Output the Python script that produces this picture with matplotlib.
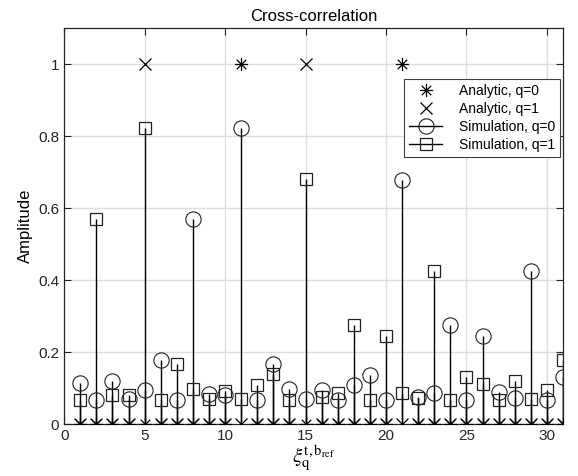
import numpy as np
import matplotlib
matplotlib.use('Agg')
import matplotlib.pyplot as plt
from matplotlib.path import Path
from matplotlib.legend_handler import HandlerLine2D

# x positions (xi values)
xi = np.arange(1, 32)

# analytic cross-correlation: 1 at the matching offsets, 0 elsewhere
analytic_q0 = np.zeros(31)
analytic_q0[[10, 20]] = 1.0          # xi = 11, 21
analytic_q1 = np.zeros(31)
analytic_q1[[4, 14]] = 1.0           # xi = 5, 15

# simulated amplitudes
sim_q0 = [0.115, 0.068, 0.121, 0.070, 0.095, 0.179, 0.066, 0.569, 0.083, 0.080,
          0.822, 0.066, 0.168, 0.098, 0.070, 0.094, 0.068, 0.110, 0.137, 0.066,
          0.679, 0.075, 0.086, 0.274, 0.066, 0.246, 0.089, 0.072, 0.425, 0.066,
          0.131]
sim_q1 = [0.066, 0.569, 0.082, 0.080, 0.822, 0.066, 0.167, 0.098, 0.070, 0.093,
          0.069, 0.110, 0.138, 0.066, 0.680, 0.075, 0.087, 0.274, 0.066, 0.246,
          0.087, 0.072, 0.425, 0.066, 0.131, 0.112, 0.068, 0.121, 0.070, 0.095,
          0.179]

plt.rcParams['font.family'] = ['Liberation Sans', 'DejaVu Sans']
plt.rcParams['mathtext.fontset'] = 'stix'

# matlab style asterisk: plus and x on top of each other
asterisk = Path([(0, -1), (0, 1), (-1, 0), (1, 0),
                 (-0.72, -0.72), (0.72, 0.72), (-0.72, 0.72), (0.72, -0.72)],
                [Path.MOVETO, Path.LINETO, Path.MOVETO, Path.LINETO,
                 Path.MOVETO, Path.LINETO, Path.MOVETO, Path.LINETO])


class EndMarker(HandlerLine2D):
    # legend marker sits at the right end of the line, like matlab
    def get_xdata(self, legend, xdescent, ydescent, width, height, fontsize):
        xdata = np.array([-xdescent, -xdescent + width])
        return xdata, np.array([-xdescent + width])


fig = plt.figure(figsize=(5.78, 4.76), dpi=100)
ax = fig.add_axes([0.111, 0.109, 0.863, 0.832])

ax.grid(True, color='#dedede', linewidth=1.0, zorder=0)
ax.set_axisbelow(True)

ax.plot(xi, analytic_q0, linestyle='none', marker=asterisk, markersize=9.5,
        markeredgecolor='black', markeredgewidth=0.9, color='black',
        label='Analytic, q=0', zorder=4)
ax.plot(xi, analytic_q1, linestyle='none', marker='x', markersize=8,
        markeredgecolor='black', markeredgewidth=0.9, color='black',
        label='Analytic, q=1', zorder=4)

ax.vlines(xi, 0, sim_q0, color='black', linewidth=1.0, zorder=3)
ax.plot(xi, sim_q0, linestyle='none', marker='o', markersize=11, markerfacecolor='none',
        markeredgecolor='#222222', markeredgewidth=0.8, zorder=5)
ax.vlines(xi, 0, sim_q1, color='black', linewidth=1.0, zorder=3)
ax.plot(xi, sim_q1, linestyle='none', marker='s', markersize=8.5, markerfacecolor='none',
        markeredgecolor='#222222', markeredgewidth=0.9, zorder=5)

# legend proxies for stem series (line + marker)
ax.plot([], [], color='black', linewidth=1.0, marker='o', markersize=11,
        markerfacecolor='none', markeredgecolor='#222222', markeredgewidth=0.8,
        label='Simulation, q=0')
ax.plot([], [], color='black', linewidth=1.0, marker='s', markersize=8.5,
        markerfacecolor='none', markeredgecolor='#222222', markeredgewidth=0.9,
        label='Simulation, q=1')

ax.set_xlim(0, 31)
ax.set_ylim(0, 1.1)
ax.set_xticks([0, 5, 10, 15, 20, 25, 30])
ax.set_yticks([0, 0.2, 0.4, 0.6, 0.8, 1.0])
ax.set_yticklabels(['0', '0.2', '0.4', '0.6', '0.8', '1'])
ax.tick_params(direction='in', top=True, right=True, labelsize=11, length=5, width=0.8,
               colors='#262626')
for sp in ax.spines.values():
    sp.set_color('#262626')
    sp.set_linewidth(0.9)

ax.set_title('Cross-correlation', fontsize=12, pad=5)
ax.set_ylabel('Amplitude', fontsize=12)
ax.set_xlabel(r'$\xi_{\mathrm{q}}^{\mathrm{t,b}_{\mathrm{ref}}}$', fontsize=15, labelpad=0)

handles, labels = ax.get_legend_handles_labels()
leg = ax.legend(handles, labels, loc='upper right', bbox_to_anchor=(0.994, 0.872),
                borderaxespad=0, fontsize=10, frameon=True, fancybox=False,
                edgecolor='#404040', borderpad=0.35, handlelength=2.4, labelspacing=0.3,
                handletextpad=1.2, numpoints=1, framealpha=1,
                handler_map={h: EndMarker() for h in handles})
leg.get_frame().set_linewidth(0.8)

fig.savefig('out.png', dpi=100)
